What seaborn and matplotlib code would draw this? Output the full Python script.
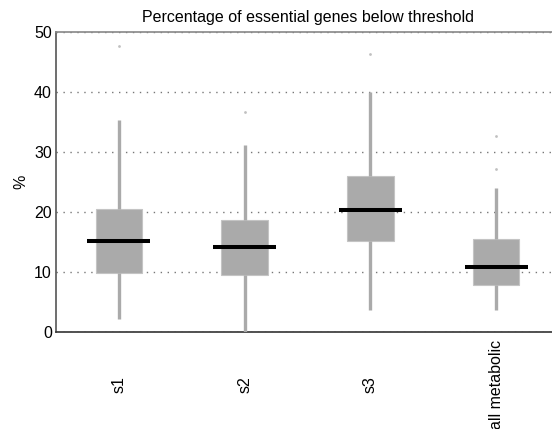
import matplotlib
matplotlib.use("Agg")
import matplotlib.pyplot as plt
import seaborn as sns

categories = ["s1", "s2", "s3", "all metabolic"]
whisker_low = [2.2, 0.0, 3.6, 3.6]
quartile1 = [9.8, 9.5, 15.2, 7.9]
medians = [15.2, 14.1, 20.3, 10.8]
quartile3 = [20.5, 18.6, 26.0, 15.5]
whisker_high = [35.4, 31.1, 40.0, 24.0]
outliers = [[47.6], [36.6], [46.3], [27.2, 32.7]]
yticks = [0, 10, 20, 30, 40, 50]

sns.set_theme(style="white")
plt.rcParams["font.family"] = ["Liberation Sans", "DejaVu Sans"]

fig = plt.figure(figsize=(5.52, 4.29), dpi=100)
ax = fig.add_axes([56 / 552, 1 - 332 / 429, 503 / 552, 300 / 429])

stats = []
for i, c in enumerate(categories):
    stats.append(dict(label=c, whislo=whisker_low[i], q1=quartile1[i], med=medians[i],
                      q3=quartile3[i], whishi=whisker_high[i], fliers=outliers[i]))

positions = list(range(1, len(categories) + 1))
ax.bxp(stats, positions=positions, widths=0.37, patch_artist=True, showcaps=False,
       boxprops=dict(facecolor="#aaaaaa", edgecolor="#c4c4c4", linewidth=0.8),
       whiskerprops=dict(color="#aaaaaa", linewidth=2.4, solid_capstyle="butt"),
       medianprops=dict(linewidth=0),
       flierprops=dict(marker="o", markersize=2.0, markerfacecolor="#c0c0c0",
                       markeredgecolor="#c0c0c0", markeredgewidth=0, linestyle="none"),
       zorder=3)
ax.hlines(medians, [p - 0.25 for p in positions], [p + 0.25 for p in positions],
          colors="black", linewidth=2.9, zorder=4)

ax.set_xlim(0.5, 4.5)
ax.set_ylim(0, 50)
ax.set_yticks(yticks)
ax.set_yticklabels([str(t) for t in yticks], fontsize=11.5, color="black")
ax.set_xticks(positions)
ax.set_xticklabels(categories, rotation=90, va="center", fontsize=11.5, color="black")
ax.tick_params(axis="x", length=0, pad=38)
ax.tick_params(axis="y", length=0, pad=3)

ax.yaxis.grid(True, linestyle=(0, (1, 4)), color="#777777", linewidth=1.0)
ax.xaxis.grid(False)
ax.set_axisbelow(True)

for side in ["left", "bottom", "top"]:
    ax.spines[side].set_visible(True)
ax.spines["right"].set_visible(False)
ax.spines["left"].set_color("#555555")
ax.spines["bottom"].set_color("#333333")
ax.spines["top"].set_color("#888888")
for s in ax.spines.values():
    s.set_linewidth(1.2)

ax.set_ylabel("%", fontsize=11.5, color="black", labelpad=4)
ax.set_title("Percentage of essential genes below threshold", fontsize=11.5, color="black", pad=7)

fig.savefig("out.png", dpi=100)
